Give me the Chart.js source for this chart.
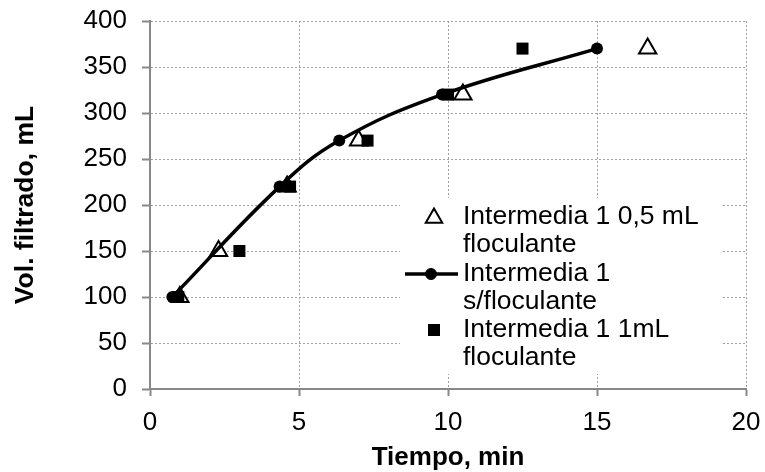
<!DOCTYPE html>
<html>
<head>
<meta charset="utf-8">
<script src="https://cdn.jsdelivr.net/npm/chart.js@4/dist/chart.umd.min.js"></script>
<style>
  html, body { margin: 0; padding: 0; background: #fff; }
  #wrap { width: 765px; height: 472px; }
</style>
</head>
<body>
<div id="wrap"><canvas id="chart" width="765" height="472"></canvas></div>
<script>
/* Filtration volume vs time - three flocculant doses */

// Intermedia 1 0,5 mL floculante (open triangles)
const tiempo05 = [1.0, 2.3, 4.6, 7.0, 10.5, 16.7];
const vol05 = [100, 150, 220, 270, 320, 370];

// Intermedia 1 s/floculante (smoothed line with dots)
const tiempoSin = [0.75, 4.35, 6.35, 9.8, 15.0];
const volSin = [100, 220, 270, 320, 370];

// Intermedia 1 1mL floculante (filled squares)
const tiempo1 = [0.95, 3.0, 4.7, 7.3, 10.0, 12.5];
const vol1 = [100, 150, 220, 270, 320, 370];

const X_TICKS = [0, 5, 10, 15, 20];
const Y_TICKS = [0, 50, 100, 150, 200, 250, 300, 350, 400];

const LEGEND_LABELS = [
  ['Intermedia 1 0,5 mL', 'floculante'],
  ['Intermedia 1', 's/floculante'],
  ['Intermedia 1 1mL', 'floculante']
];

const FONT = 'Liberation Sans, Arial, sans-serif';
const toPoints = (xs, ys) => xs.map((x, i) => ({ x, y: ys[i] }));

// Legend drawn by hand: white box over the grid, marker + two-line labels
const boxLegend = {
  id: 'boxLegend',
  afterDraw(chart) {
    const ctx = chart.ctx;
    ctx.save();
    ctx.fillStyle = '#fff';
    ctx.fillRect(400, 198, 323, 176);

    const rows = [217, 274, 330];
    const mx = 434;
    // triangle
    ctx.fillStyle = '#fff'; ctx.strokeStyle = '#000'; ctx.lineWidth = 2;
    Chart.helpers.drawPoint(ctx, { pointStyle: 'triangle', radius: 9.5, borderWidth: 2 }, mx, rows[0] + 1);
    // line + dot
    ctx.strokeStyle = '#000'; ctx.lineWidth = 3.5;
    ctx.beginPath(); ctx.moveTo(405, rows[1]); ctx.lineTo(458, rows[1]); ctx.stroke();
    ctx.fillStyle = '#000'; ctx.lineWidth = 1;
    Chart.helpers.drawPoint(ctx, { pointStyle: 'circle', radius: 5.5, borderWidth: 1 }, 431, rows[1]);
    // square
    Chart.helpers.drawPoint(ctx, { pointStyle: 'rect', radius: 8.5, borderWidth: 0 }, mx, rows[2]);

    ctx.fillStyle = '#000';
    ctx.font = '26.5px ' + FONT;
    ctx.textBaseline = 'middle';
    ctx.textAlign = 'left';
    LEGEND_LABELS.forEach((lines, i) => {
      lines.forEach((t, j) => ctx.fillText(t, 463, rows[i] + j * 28));
    });
    ctx.restore();
  }
};

new Chart(document.getElementById('chart'), {
  type: 'scatter',
  data: {
    datasets: [
      {
        label: 'Intermedia 1 0,5 mL floculante',
        data: toPoints(tiempo05, vol05),
        pointStyle: 'triangle', pointRadius: 10,
        backgroundColor: '#fff', borderColor: '#000', borderWidth: 2,
        order: 3
      },
      {
        label: 'Intermedia 1 s/floculante',
        data: toPoints(tiempoSin, volSin),
        showLine: true, tension: 0.4,
        borderColor: '#000', borderWidth: 3.5,
        pointStyle: 'circle', pointRadius: 6,
        pointBackgroundColor: '#000', pointBorderColor: '#000', pointBorderWidth: 0,
        order: 2
      },
      {
        label: 'Intermedia 1 1mL floculante',
        data: toPoints(tiempo1, vol1),
        pointStyle: 'rect', pointRadius: 8.5,
        backgroundColor: '#000', borderColor: '#000', borderWidth: 0,
        order: 1
      }
    ]
  },
  options: {
    responsive: false,
    animation: false,
    layout: { padding: { top: 21, right: 19, left: 0, bottom: 0 } },
    plugins: { legend: { display: false }, tooltip: { enabled: false } },
    scales: {
      x: {
        type: 'linear', min: 0, max: 20,
        afterBuildTicks: s => { s.ticks = X_TICKS.map(v => ({ value: v })); },
        afterFit: s => { s.height = 83; s.paddingLeft = 0; s.paddingRight = 0; },
        ticks: { color: '#000', font: { family: FONT, size: 26 }, padding: 11 },
        grid: { color: '#a0a0a0', lineWidth: 1, tickColor: '#888', tickWidth: 2, tickLength: 7 },
        border: { color: '#888', width: 2, dash: [2, 2] },
        title: {
          display: true, text: 'Tiempo, min', color: '#000',
          font: { family: FONT, size: 26, weight: 'bold', lineHeight: 1 },
          padding: { top: 0, bottom: 1 }
        }
      },
      y: {
        type: 'linear', min: 0, max: 400,
        afterBuildTicks: s => { s.ticks = Y_TICKS.map(v => ({ value: v })); },
        afterFit: s => { s.width = 150; s.paddingTop = 0; s.paddingBottom = 0; },
        ticks: { color: '#000', font: { family: FONT, size: 26 }, padding: 15 },
        grid: { color: '#a0a0a0', lineWidth: 1, tickColor: '#888', tickWidth: 2, tickLength: 8 },
        border: { color: '#888', width: 2, dash: [2, 2] },
        title: {
          display: true, text: 'Vol. filtrado, mL', color: '#000',
          font: { family: FONT, size: 26.5, weight: 'bold', lineHeight: 1 },
          padding: { top: 12, bottom: 0 }
        }
      }
    }
  },
  plugins: [boxLegend]
});
</script>
</body>
</html>
